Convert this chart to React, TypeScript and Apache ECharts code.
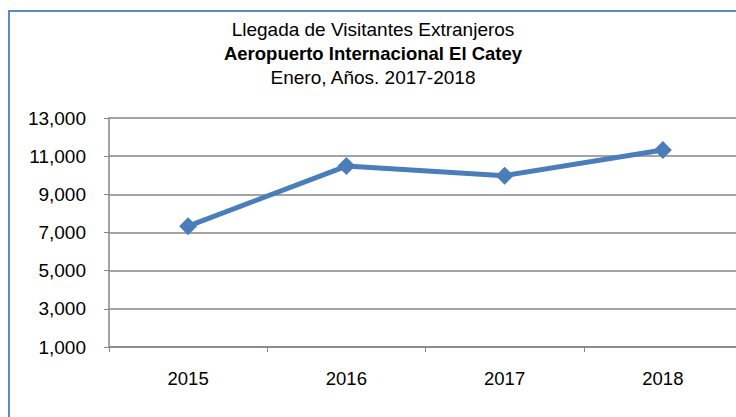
import React, { useEffect, useRef } from "react";
import * as echarts from "echarts";

const categories = ["2015", "2016", "2017", "2018"];
const visitors = [7330, 10480, 9980, 11320];
const titleLines = ["Llegada de Visitantes Extranjeros", "Aeropuerto Internacional El Catey", "Enero, Años. 2017-2018"];

export default function App() {
  const ref = useRef<HTMLDivElement>(null);
  useEffect(() => {
    const chart = echarts.init(ref.current!, null, { renderer: "svg" });
    const font = "'Liberation Sans', Arial, sans-serif";
    chart.setOption({
      animation: false,
      backgroundColor: "#ffffff",
      graphic: [
        {
          type: "rect",
          shape: { x: 9, y: 11, width: 740, height: 420 },
          style: { fill: "none", stroke: "#5B8AC6", lineWidth: 2 },
          silent: true,
        },
        {
          type: "text",
          x: 373, y: 29,
          style: { text: titleLines[0], font: `19px ${font}`, fill: "#000", align: "center", verticalAlign: "middle" },
        },
        {
          type: "text",
          x: 373, y: 53,
          style: { text: titleLines[1], font: `bold 18.5px ${font}`, fill: "#000", align: "center", verticalAlign: "middle" },
        },
        {
          type: "text",
          x: 373, y: 77,
          style: { text: titleLines[2], font: `19px ${font}`, fill: "#000", align: "center", verticalAlign: "middle" },
        },
      ],
      grid: { left: 109, top: 118, width: 633, height: 229, containLabel: false, outerBoundsMode: "none" },
      xAxis: {
        type: "category",
        data: categories,
        boundaryGap: true,
        axisLine: { lineStyle: { color: "#868686", width: 1.5 } },
        axisTick: { show: true, length: 5, lineStyle: { color: "#868686" } },
        axisLabel: { color: "#000", fontSize: 18.5, fontFamily: font, margin: 22 },
      },
      yAxis: {
        type: "value",
        min: 1000,
        max: 13000,
        interval: 2000,
        axisLine: { show: true, lineStyle: { color: "#868686", width: 1.5 } },
        axisTick: { show: true, length: 5, lineStyle: { color: "#868686" } },
        splitLine: { lineStyle: { color: "#868686", width: 1.5 } },
        axisLabel: {
          color: "#000",
          fontSize: 19,
          fontFamily: font,
          margin: 23,
          formatter: (v: number) => v.toLocaleString("en-US"),
        },
      },
      series: [
        {
          type: "line",
          data: visitors,
          lineStyle: { color: "#4A7EBB", width: 5 },
          itemStyle: { color: "#4A7EBB" },
          symbol: "diamond",
          symbolSize: 18,
          showSymbol: true,
        },
      ],
    });
    return () => chart.dispose();
  }, []);
  return (
    <div
      ref={ref}
      style={{ position: "fixed", left: 0, top: 0, width: 736, height: 417 }}
    />
  );
}
